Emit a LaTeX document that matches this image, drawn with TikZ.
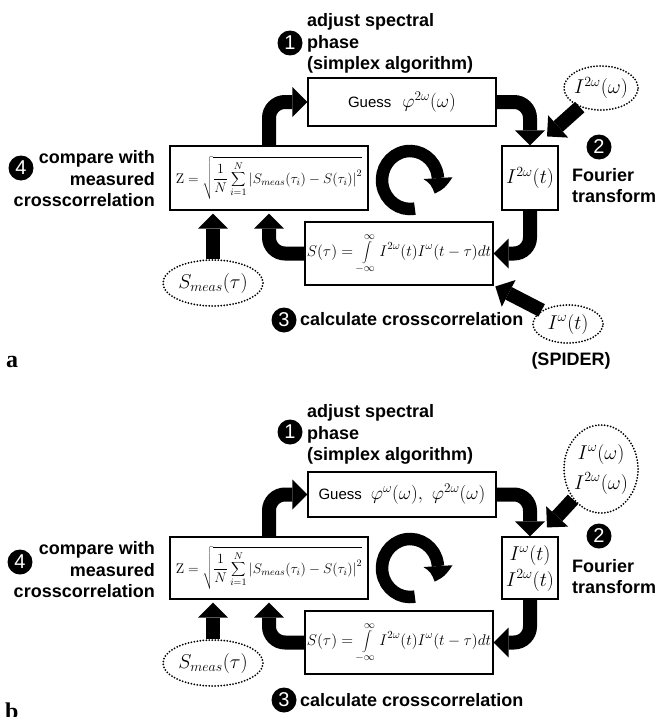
\RequirePackage{fix-cm}
\documentclass[tikz,border=0pt]{standalone}
\usepackage{fontspec}
\newfontfamily\hv{Liberation Sans}
\newfontfamily\tms{Liberation Serif}
\usetikzlibrary{arrows.meta,bending,shapes.geometric}
\newcommand\fsz[1]{\fontsize{#1}{#1}\selectfont}
\tikzset{
  box/.style={draw=black, line width=1.1pt, rectangle, inner sep=0pt},
  dotell/.style={ellipse, draw=black, line width=2pt, dash pattern=on 0pt off 3pt, line cap=round, inner sep=0pt},
  blk/.style={line width=14pt, rounded corners=16pt, -{Triangle[width=30pt,length=15pt,line width=0pt]}},
  loopar/.style={line width=12.5pt, -{Triangle[width=29pt,length=16pt,line width=0pt,bend]}},
  num/.style={circle, fill=black, text=white, minimum size=25pt, inner sep=0pt, font=\hv\fsz{20}},
  lab/.style={font=\hv\bfseries\fontsize{18}{21.5}\selectfont, inner sep=0pt},
  plab/.style={font=\tms\bfseries\fsz{24}, inner sep=0pt, anchor=base west}
}
\begin{document}
\begin{tikzpicture}[x=1pt,y=-1pt]
\useasboundingbox (0,0) rectangle (657,717);
\clip (0,0) rectangle (657,717);

% ================= panel a =================
\node[box, minimum width=188pt, minimum height=48pt] (aG) at (402,102)
  {{\hv\fsz{15}Guess}\hspace{11pt}{\fsz{19}$\varphi^{2\omega}(\omega)$}};
\node[box, minimum width=56pt, minimum height=64pt] (aI) at (530,178)
  {\fsz{20}$I^{2\omega}(t)$};
\node[box, minimum width=198pt, minimum height=64pt] (aZ) at (269,178)
  {\fsz{14}$\displaystyle \mathrm{Z}=\sqrt{\frac{1}{N}\sum_{i=1}^{N}\left|S_{meas}(\tau_i)-S(\tau_i)\right|^{2}}$};
\node[box, minimum width=188pt, minimum height=63pt] (aS) at (399,253.5)
  {\fsz{15.5}$\displaystyle S(\tau)=\int\limits_{-\infty}^{\infty}I^{2\omega}(t)I^{\omega}(t-\tau)dt$};
\node[dotell, minimum width=74pt, minimum height=44pt] (aE) at (601,88)
  {\fsz{20}\makebox[0pt]{$I^{2\omega}(\omega)$}};
\node[dotell, minimum width=70pt, minimum height=38pt] (aW) at (568,324)
  {\fsz{20}\makebox[0pt]{$I^{\omega}(t)$}};
\node[dotell, minimum width=100pt, minimum height=46pt] (aSm) at (213,283)
  {\fsz{20}\makebox[0pt]{$S_{meas}(\tau)$}};

\node[num] (a1) at (290,43) {1};
\node[num] (a2) at (599,147) {2};
\node[num] (a3) at (284,320) {3};
\node[num] (a4) at (21,168) {4};

\node[lab, anchor=north west, align=left] (aL1) at (307,13.5) {adjust spectral\\phase\\(simplex algorithm)};
\node[lab, anchor=north east, align=right] (aL4) at (155,150.5) {compare with\\measured\\crosscorrelation};
\node[lab, anchor=north west, align=left, font=\hv\bfseries\fontsize{18}{20.5}\selectfont] (aL2) at (572,168.5) {Fourier\\transform};
\node[lab, anchor=base west] (aL3) at (300,325.5) {calculate crosscorrelation};
\node[lab, anchor=base] (aSp) at (571,365.5) {(SPIDER)};
\node[plab] (aLab) at (6,367) {a};

\draw[blk] (aZ.north) |- (aG.west);
\draw[blk] (aG.east) -| (aI.north);
\draw[blk] (aI.south) |- (aS.east);
\draw[blk, shorten >=3pt] (aS.west) -| (aZ.south);
\draw[blk, shorten >=3pt] (aSm.north) -- (aSm.north |- aZ.south);
\draw[blk] (aE) -- ([xshift=17pt,yshift=9pt]aI.north);
\draw[blk, shorten >=2pt] (aW) -- (aS.south east);
\coordinate (aC) at (410,180);
\draw[loopar] (aC) ++(80:28 and 29) arc[start angle=80, end angle=388, x radius=28, y radius=29];

% ================= panel b =================
\node[box, minimum width=188pt, minimum height=45pt] (bG) at (402,494.5)
  {{\hv\fsz{15}Guess}\hspace{9pt}{\fsz{19}$\varphi^{\omega}(\omega),\ \varphi^{2\omega}(\omega)$}};
\node[box, minimum width=56pt, minimum height=62pt, align=center, font=\fontsize{20}{26}\selectfont] (bI) at (530,568)
  {$I^{\omega}(t)$\\$I^{2\omega}(t)$};
\node[box, minimum width=198pt, minimum height=62pt] (bZ) at (269,568)
  {\fsz{14}$\displaystyle \mathrm{Z}=\sqrt{\frac{1}{N}\sum_{i=1}^{N}\left|S_{meas}(\tau_i)-S(\tau_i)\right|^{2}}$};
\node[box, minimum width=188pt, minimum height=63pt] (bS) at (399,642.5)
  {\fsz{15.5}$\displaystyle S(\tau)=\int\limits_{-\infty}^{\infty}I^{2\omega}(t)I^{\omega}(t-\tau)dt$};
\node[dotell, minimum width=74pt, minimum height=88pt, align=center, font=\fontsize{20}{30}\selectfont] (bE) at (601,469)
  {\makebox[0pt]{$I^{\omega}(\omega)$}\\\makebox[0pt]{$I^{2\omega}(\omega)$}};
\node[dotell, minimum width=100pt, minimum height=46pt] (bSm) at (213,663)
  {\fsz{20}\makebox[0pt]{$S_{meas}(\tau)$}};

\node[num] (b1) at (290,432) {1};
\node[num] (b2) at (599,536) {2};
\node[num] (b3) at (284,700) {3};
\node[num] (b4) at (20,562) {4};

\node[lab, anchor=north west, align=left] (bL1) at (307,404.5) {adjust spectral\\phase\\(simplex algorithm)};
\node[lab, anchor=north east, align=right] (bL4) at (155,541.5) {compare with\\measured\\crosscorrelation};
\node[lab, anchor=north west, align=left, font=\hv\bfseries\fontsize{18}{20.5}\selectfont] (bL2) at (572,559.5) {Fourier\\transform};
\node[lab, anchor=base west] (bL3) at (300,706) {calculate crosscorrelation};
\node[plab] (bLab) at (5,719) {b};

\draw[blk] (bZ.north) |- (bG.west);
\draw[blk] (bG.east) -| (bI.north);
\draw[blk] (bI.south) |- (bS.east);
\draw[blk, shorten >=3pt] (bS.west) -| (bZ.south);
\draw[blk, shorten >=3pt] (bSm.north) -- (bSm.north |- bZ.south);
\draw[blk] (bE) -- ([xshift=17pt,yshift=9pt]bI.north);
\coordinate (bC) at (410,568);
\draw[loopar] (bC) ++(80:28 and 29) arc[start angle=80, end angle=388, x radius=28, y radius=29];
\end{tikzpicture}
\end{document}
